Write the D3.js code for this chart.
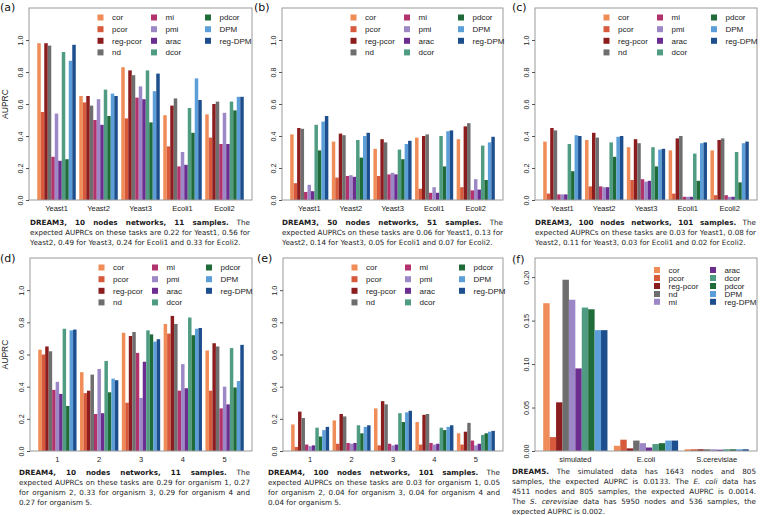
<!DOCTYPE html>
<html>
<head>
<meta charset="utf-8">
<script src="https://cdn.jsdelivr.net/npm/d3@7"></script>
<style>
  body { margin: 0; background: #fff; }
  svg { display: block; }
</style>
</head>
<body>
<svg id="fig" width="760" height="515"></svg>
<script>
// ---- data ----
var methods = ["cor", "pcor", "reg-pcor", "nd", "mi", "pmi", "arac", "dcor", "pdcor", "DPM", "reg-DPM"];
var methods5 = ["cor", "pcor", "reg-pcor", "nd", "mi", "arac", "dcor", "pdcor", "DPM", "reg-DPM"];

var dream3Tasks = ["Yeast1", "Yeast2", "Yeast3", "Ecoli1", "Ecoli2"];
var dream4Tasks = ["1", "2", "3", "4", "5"];
var dream5Tasks = ["simulated", "E.coli", "S.cerevisiae"];

// one row per task, one value per method
var auprcA = [
  [0.98, 0.55, 0.98, 0.965, 0.27, 0.54, 0.245, 0.925, 0.255, 0.87, 0.97],
  [0.65, 0.61, 0.65, 0.59, 0.50, 0.63, 0.47, 0.69, 0.525, 0.665, 0.65],
  [0.83, 0.51, 0.81, 0.78, 0.64, 0.71, 0.63, 0.81, 0.485, 0.68, 0.79],
  [0.53, 0.335, 0.59, 0.635, 0.21, 0.30, 0.22, 0.575, 0.42, 0.76, 0.625],
  [0.535, 0.39, 0.60, 0.615, 0.35, 0.545, 0.35, 0.615, 0.56, 0.645, 0.645]
];
var auprcB = [
  [0.41, 0.105, 0.45, 0.445, 0.05, 0.095, 0.055, 0.47, 0.31, 0.49, 0.525],
  [0.365, 0.14, 0.415, 0.405, 0.15, 0.155, 0.145, 0.375, 0.265, 0.40, 0.42],
  [0.32, 0.15, 0.38, 0.36, 0.16, 0.17, 0.16, 0.315, 0.255, 0.35, 0.37],
  [0.39, 0.07, 0.40, 0.41, 0.045, 0.08, 0.045, 0.40, 0.21, 0.43, 0.435],
  [0.38, 0.08, 0.46, 0.48, 0.06, 0.13, 0.065, 0.34, 0.125, 0.36, 0.395]
];
var auprcC = [
  [0.365, 0.04, 0.45, 0.435, 0.035, 0.035, 0.035, 0.35, 0.18, 0.405, 0.40],
  [0.375, 0.085, 0.42, 0.39, 0.085, 0.08, 0.08, 0.36, 0.27, 0.395, 0.40],
  [0.33, 0.125, 0.38, 0.355, 0.13, 0.115, 0.12, 0.33, 0.21, 0.315, 0.32],
  [0.31, 0.04, 0.385, 0.40, 0.02, 0.02, 0.02, 0.29, 0.12, 0.355, 0.36],
  [0.31, 0.03, 0.375, 0.385, 0.03, 0.02, 0.02, 0.30, 0.11, 0.355, 0.365]
];
var auprcD = [
  [0.63, 0.60, 0.65, 0.62, 0.38, 0.43, 0.355, 0.76, 0.28, 0.75, 0.755],
  [0.49, 0.36, 0.375, 0.475, 0.23, 0.51, 0.235, 0.56, 0.365, 0.45, 0.44],
  [0.735, 0.30, 0.715, 0.74, 0.61, 0.33, 0.555, 0.75, 0.725, 0.68, 0.695],
  [0.79, 0.73, 0.84, 0.79, 0.375, 0.54, 0.39, 0.83, 0.72, 0.76, 0.765],
  [0.625, 0.375, 0.67, 0.65, 0.265, 0.40, 0.29, 0.64, 0.395, 0.435, 0.66]
];
var auprcE = [
  [0.165, 0.025, 0.245, 0.205, 0.04, 0.03, 0.035, 0.145, 0.09, 0.13, 0.15],
  [0.19, 0.045, 0.23, 0.215, 0.05, 0.045, 0.05, 0.16, 0.11, 0.15, 0.16],
  [0.265, 0.035, 0.31, 0.29, 0.045, 0.035, 0.04, 0.235, 0.18, 0.24, 0.25],
  [0.18, 0.04, 0.225, 0.23, 0.05, 0.04, 0.045, 0.145, 0.13, 0.15, 0.16],
  [0.11, 0.04, 0.12, 0.175, 0.065, 0.035, 0.045, 0.10, 0.11, 0.12, 0.125]
];
var auprcF = [
  [0.170, 0.016, 0.056, 0.197, 0.174, 0.095, 0.165, 0.163, 0.139, 0.139],
  [0.006, 0.013, 0.003, 0.012, 0.009, 0.004, 0.008, 0.009, 0.012, 0.012],
  [0.002, 0.002, 0.002, 0.002, 0.002, 0.0015, 0.002, 0.002, 0.002, 0.002]
];

var ticks1 = [0, 0.2, 0.4, 0.6, 0.8, 1.0];
var ticks5 = [0, 0.05, 0.10, 0.15, 0.20];

// captions: lines of [text, style]
var capA = [
  [["DREAM3, 10 nodes networks, 11 samples.", "b"], [" The", ""]],
  [["expected AUPRCs on these tasks are 0.22 for Yeast1, 0.56 for", ""]],
  [["Yeast2, 0.49 for Yeast3, 0.24 for Ecoli1 and 0.33 for Ecoli2.", ""]]
];
var capB = [
  [["DREAM3, 50 nodes networks, 51 samples.", "b"], [" The", ""]],
  [["expected AUPRCs on these tasks are 0.06 for Yeast1, 0.13 for", ""]],
  [["Yeast2, 0.14 for Yeast3, 0.05 for Ecoli1 and 0.07 for Ecoli2.", ""]]
];
var capC = [
  [["DREAM3, 100 nodes networks, 101 samples.", "b"], [" The", ""]],
  [["expected AUPRCs on these tasks are 0.03 for Yeast1, 0.08 for", ""]],
  [["Yeast2, 0.11 for Yeast3, 0.03 for Ecoli1 and 0.02 for Ecoli2.", ""]]
];
var capD = [
  [["DREAM4, 10 nodes networks, 11 samples.", "b"], [" The", ""]],
  [["expected AUPRCs on these tasks are 0.29 for organism 1, 0.27", ""]],
  [["for organism 2, 0.33 for organism 3, 0.29 for organism 4 and", ""]],
  [["0.27 for organism 5.", ""]]
];
var capE = [
  [["DREAM4, 100 nodes networks, 101 samples.", "b"], [" The", ""]],
  [["expected AUPRCs on these tasks are 0.03 for organism 1, 0.05", ""]],
  [["for organism 2, 0.04 for organism 3, 0.04 for organism 4 and", ""]],
  [["0.04 for organism 5.", ""]]
];
var capF = [
  [["DREAM5.", "b"], [" The simulated data has 1643 nodes and 805", ""]],
  [["samples, the expected AUPRC is 0.0133. The ", ""], ["E. coli", "i"], [" data has", ""]],
  [["4511 nodes and 805 samples, the expected AUPRC is 0.0014.", ""]],
  [["The ", ""], ["S. cerevisiae", "i"], [" data has 5950 nodes and 536 samples, the", ""]],
  [["expected AUPRC is 0.002.", ""]]
];

// ---- styles ----
var colorOf = {
  "cor": "#EF8C57", "pcor": "#D65A3B", "reg-pcor": "#8C1D1F", "nd": "#6E6E6E",
  "mi": "#B1326C", "pmi": "#9C88C6", "arac": "#6B2D8F", "dcor": "#4F9C83",
  "pdcor": "#1F6B39", "DPM": "#5C9ED7", "reg-DPM": "#1D4F8F"
};
var colorOfF = Object.assign({}, colorOf, {"mi": colorOf.pmi});

var sansR = "'Liberation Sans', Arial, sans-serif";
var sansD = "'DejaVu Sans', sans-serif";

var leg3 = {cols: [71.5, 125, 179], rows: [9.5, 21.2, 32.8, 44.4], perCol: 4};
var leg2 = {cols: [122, 178], rows: [12, 20, 28, 36, 43.8], perCol: 5};

var panels = [
  {tag: "(a)", tagXY: [0, 11], box: [29, 8, 252, 200], tasks: dream3Tasks, methods: methods, values: auprcA,
   colors: colorOf, ymax: 1.2, ticks: ticks1, fmt: ".1f", ylab: true, legend: leg3, cap: capA, capX: [30, 250], capY: 224.5},
  {tag: "(b)", tagXY: [254, 11], box: [282, 8, 503, 200], tasks: dream3Tasks, methods: methods, values: auprcB,
   colors: colorOf, ymax: 1.2, ticks: ticks1, fmt: ".1f", ylab: false, legend: leg3, cap: capB, capX: [282, 503], capY: 224.5},
  {tag: "(c)", tagXY: [512, 11], box: [535, 8, 757, 200], tasks: dream3Tasks, methods: methods, values: auprcC,
   colors: colorOf, ymax: 1.2, ticks: ticks1, fmt: ".1f", ylab: false, legend: leg3, cap: capC, capX: [535, 756], capY: 224.5},
  {tag: "(d)", tagXY: [0, 262], box: [30, 258, 252, 451], tasks: dream4Tasks, methods: methods, values: auprcD,
   colors: colorOf, ymax: 1.2, ticks: ticks1, fmt: ".1f", ylab: true, legend: leg3, cap: capD, capX: [19, 250], capY: 475},
  {tag: "(e)", tagXY: [257, 262], box: [283, 258, 503, 451], tasks: dream4Tasks, methods: methods, values: auprcE,
   colors: colorOf, ymax: 1.2, ticks: ticks1, fmt: ".1f", ylab: false, legend: leg3, cap: capE, capX: [268, 500], capY: 475},
  {tag: "(f)", tagXY: [512, 263], box: [535, 258, 757, 451], tasks: dream5Tasks, methods: methods5, values: auprcF,
   colors: colorOfF, ymax: 0.222, ticks: ticks5, fmt: ".2f", ylab: false, legend: leg2, cap: capF, capX: [512, 756], capY: 474}
];

var svg = d3.select("#fig");

panels.forEach(function(p) {
  var x0 = p.box[0], y0 = p.box[1], x1 = p.box[2], y1 = p.box[3];
  var nB = p.methods.length, nG = p.tasks.length;
  // R barplot layout: bars of width 1, one empty slot before each group, 4% padding
  var lo = 1, hi = nG * (nB + 1);
  var ext = 0.04 * (hi - lo);
  var x = d3.scaleLinear().domain([lo - ext, hi + ext]).range([x0, x1]);
  var y = d3.scaleLinear().domain([0, p.ymax]).range([y1, y0]);

  var g = svg.append("g");

  var bars = [];
  p.tasks.forEach(function(t, gi) {
    p.methods.forEach(function(m, j) {
      bars.push({gi: gi, j: j, m: m, v: p.values[gi][j]});
    });
  });

  g.append("g").selectAll("rect")
    .data(bars)
    .enter()
    .append("rect")
    .attr("x", function(d) { return x(lo + d.gi * (nB + 1) + d.j); })
    .attr("width", function(d) { return x(2) - x(1); })
    .attr("y", function(d) { return y(d.v); })
    .attr("height", function(d) { return y(0) - y(d.v); })
    .attr("fill", function(d) { return p.colors[d.m]; });

  // frame
  g.append("rect")
    .attr("x", x0).attr("y", y0)
    .attr("width", x1 - x0).attr("height", y1 - y0)
    .attr("fill", "none").attr("stroke", "#9a9a9a").attr("stroke-width", 1);

  // y axis
  var ax = g.append("g")
    .attr("transform", "translate(" + x0 + ",0)")
    .call(d3.axisLeft(y).tickValues(p.ticks).tickFormat(d3.format(p.fmt)).tickSize(3));
  ax.select(".domain").remove();
  ax.selectAll(".tick line").attr("stroke", "#555");
  ax.selectAll(".tick text")
    .attr("transform", "rotate(-90)")
    .attr("x", 0).attr("y", -6).attr("dy", null)
    .attr("text-anchor", "middle")
    .attr("font-family", sansR).attr("font-size", 7.2).attr("fill", "#222");

  // category labels
  g.append("g").selectAll("text")
    .data(p.tasks)
    .enter()
    .append("text")
    .attr("x", function(d, gi) { return x(lo + gi * (nB + 1) + nB / 2); })
    .attr("y", y1 + 10.5)
    .attr("text-anchor", "middle")
    .attr("font-family", sansR).attr("font-size", 7.5).attr("fill", "#222")
    .text(function(d) { return d; });

  if (p.ylab) {
    g.append("text")
      .attr("transform", "translate(8," + ((y0 + y1) / 2) + ") rotate(-90)")
      .attr("text-anchor", "middle")
      .attr("font-family", sansR).attr("font-size", 8.5).attr("fill", "#222")
      .text("AUPRC");
  }

  // legend
  var L = p.legend;
  var lg = g.append("g").selectAll("g")
    .data(p.methods)
    .enter()
    .append("g")
    .attr("transform", function(d, i) {
      return "translate(" + (x0 + L.cols[Math.floor(i / L.perCol)]) + "," + (y0 + L.rows[i % L.perCol]) + ")";
    });
  lg.append("rect")
    .attr("x", -3).attr("y", -3).attr("width", 6).attr("height", 6)
    .attr("fill", function(d) { return p.colors[d]; });
  lg.append("text")
    .attr("x", 11.5).attr("y", 2.8)
    .attr("font-family", sansR).attr("font-size", 8).attr("fill", "#222")
    .text(function(d) { return d; });

  // panel tag
  svg.append("text")
    .attr("x", p.tagXY[0]).attr("y", p.tagXY[1])
    .attr("font-family", sansD).attr("font-size", 11).attr("fill", "#111")
    .text(p.tag);

  caption(p.cap, p.capX[0], p.capX[1], p.capY);
});

function caption(lines, xL, xR, yTop) {
  var W = xR - xL;
  lines.forEach(function(segs, i) {
    var fs = 7.2;
    var t = svg.append("text")
      .attr("x", xL).attr("y", yTop + i * 10.1)
      .attr("font-family", sansD).attr("font-size", fs).attr("fill", "#1a1a1a");
    segs.forEach(function(s) {
      t.append("tspan")
        .attr("font-weight", s[1] === "b" ? "bold" : null)
        .attr("font-style", s[1] === "i" ? "italic" : null)
        .text(s[0]);
    });
    var w = t.node().getComputedTextLength();
    if (w > W) {
      // shrink the line rather than let it run past the column
      fs = fs * W / w * 0.99;
      t.attr("font-size", fs);
      w = t.node().getComputedTextLength();
    }
    var full = segs.map(function(s) { return s[0]; }).join("");
    var nSp = (full.match(/ /g) || []).length;
    var last = i === lines.length - 1;
    if (!last && nSp > 0 && w < W) {
      t.style("word-spacing", ((W - w) / nSp) + "px");
    }
  });
}
</script>
</body>
</html>
